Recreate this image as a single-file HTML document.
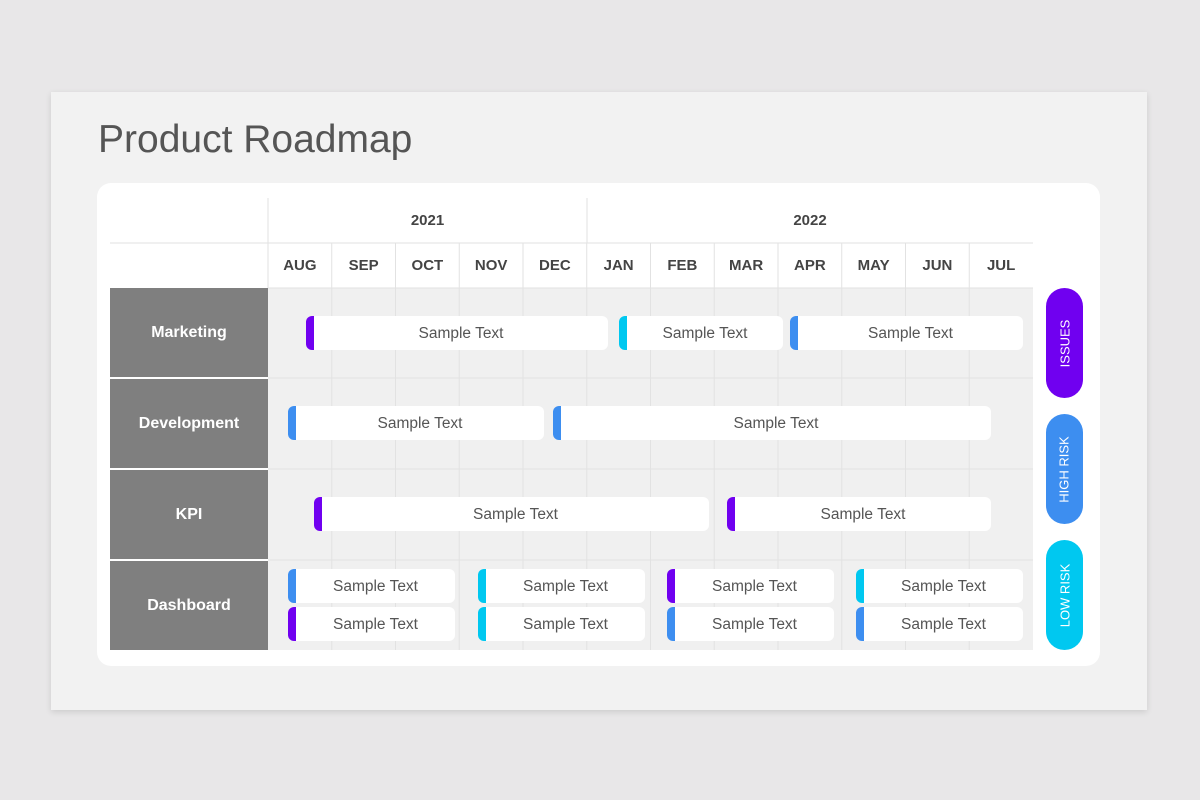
<!DOCTYPE html><html><head><style>
*{margin:0;padding:0;box-sizing:border-box}
body{width:1200px;height:800px;background:#e8e7e8;position:relative;overflow:hidden;font-family:"Liberation Sans",sans-serif}
.a{position:absolute}
.slide{left:51px;top:92px;width:1096px;height:618px;background:#f2f2f2;box-shadow:0 2px 6px rgba(0,0,0,.12)}
.card{left:97px;top:183px;width:1003px;height:483px;background:#fff;border-radius:14px}
.h{color:#444;font-weight:bold;font-size:15px;text-align:center}
.lab{background:#7f7f7f;color:#fff;font-weight:bold;font-size:16px;display:flex;align-items:center;justify-content:center;left:110px;width:158px}
.bar{background:#fff;border-radius:6px;height:34px;color:#555;font-size:15.5px;display:flex;align-items:center;justify-content:center;padding-left:8px;padding-top:1px;overflow:hidden}
.bar i{position:absolute;left:0;top:0;bottom:0;width:8px}
.p{background:#7000f0}.b{background:#3d8ef0}.c{background:#00c8f0}
.pill{left:1046px;width:37px;height:110px;border-radius:19px;color:#fff;font-size:13px;display:flex;align-items:center;justify-content:center}
.pill span{transform:rotate(-90deg);white-space:nowrap}
</style></head><body>
<div class="a slide"></div>
<div class="a" style="left:98px;top:118px;font-size:39px;color:#555">Product Roadmap</div>
<div class="a card"></div>
<svg class="a" style="left:0;top:0" width="1200" height="800">
<rect x="268" y="288" width="765" height="362" fill="#f0f0f0"/>
<g stroke="#e2e2e2" stroke-width="1">
<line x1="110" y1="243" x2="1033" y2="243"/>
<line x1="268" y1="198" x2="268" y2="288"/>
<line x1="587" y1="198" x2="587" y2="243"/>
<line x1="268" y1="288" x2="1033" y2="288"/>
<line x1="268" y1="378" x2="1033" y2="378"/>
<line x1="268" y1="469" x2="1033" y2="469"/>
<line x1="268" y1="560" x2="1033" y2="560"/>
<line x1="331.75" y1="243" x2="331.75" y2="650"/><line x1="395.5" y1="243" x2="395.5" y2="650"/><line x1="459.25" y1="243" x2="459.25" y2="650"/><line x1="523" y1="243" x2="523" y2="650"/><line x1="586.75" y1="243" x2="586.75" y2="650"/><line x1="650.5" y1="243" x2="650.5" y2="650"/><line x1="714.25" y1="243" x2="714.25" y2="650"/><line x1="778" y1="243" x2="778" y2="650"/><line x1="841.75" y1="243" x2="841.75" y2="650"/><line x1="905.5" y1="243" x2="905.5" y2="650"/><line x1="969.25" y1="243" x2="969.25" y2="650"/>
</g></svg>
<div class="a h" style="left:268px;top:212px;width:319px">2021</div>
<div class="a h" style="left:587px;top:212px;width:446px">2022</div>
<div class="a" style="left:268px;top:257px;width:765px;display:flex">
<div class="h" style="flex:1">AUG</div><div class="h" style="flex:1">SEP</div><div class="h" style="flex:1">OCT</div><div class="h" style="flex:1">NOV</div><div class="h" style="flex:1">DEC</div><div class="h" style="flex:1">JAN</div><div class="h" style="flex:1">FEB</div><div class="h" style="flex:1">MAR</div><div class="h" style="flex:1">APR</div><div class="h" style="flex:1">MAY</div><div class="h" style="flex:1">JUN</div><div class="h" style="flex:1">JUL</div></div>
<div class="a lab" style="top:288px;height:89px">Marketing</div>
<div class="a lab" style="top:379px;height:89px">Development</div>
<div class="a lab" style="top:470px;height:89px">KPI</div>
<div class="a lab" style="top:561px;height:89px">Dashboard</div>
<div class="a bar" style="left:306px;top:316px;width:302px"><i class="p"></i>Sample Text</div>
<div class="a bar" style="left:619px;top:316px;width:164px"><i class="c"></i>Sample Text</div>
<div class="a bar" style="left:790px;top:316px;width:233px"><i class="b"></i>Sample Text</div>
<div class="a bar" style="left:288px;top:406px;width:256px"><i class="b"></i>Sample Text</div>
<div class="a bar" style="left:553px;top:406px;width:438px"><i class="b"></i>Sample Text</div>
<div class="a bar" style="left:314px;top:497px;width:395px"><i class="p"></i>Sample Text</div>
<div class="a bar" style="left:727px;top:497px;width:264px"><i class="p"></i>Sample Text</div>
<div class="a bar" style="left:288px;top:569px;width:167px"><i class="b"></i>Sample Text</div>
<div class="a bar" style="left:478px;top:569px;width:167px"><i class="c"></i>Sample Text</div>
<div class="a bar" style="left:667px;top:569px;width:167px"><i class="p"></i>Sample Text</div>
<div class="a bar" style="left:856px;top:569px;width:167px"><i class="c"></i>Sample Text</div>
<div class="a bar" style="left:288px;top:607px;width:167px"><i class="p"></i>Sample Text</div>
<div class="a bar" style="left:478px;top:607px;width:167px"><i class="c"></i>Sample Text</div>
<div class="a bar" style="left:667px;top:607px;width:167px"><i class="b"></i>Sample Text</div>
<div class="a bar" style="left:856px;top:607px;width:167px"><i class="b"></i>Sample Text</div>
<div class="a pill p" style="top:288px"><span>ISSUES</span></div>
<div class="a pill b" style="top:414px"><span>HIGH RISK</span></div>
<div class="a pill c" style="top:540px"><span>LOW RISK</span></div>
</body></html>
